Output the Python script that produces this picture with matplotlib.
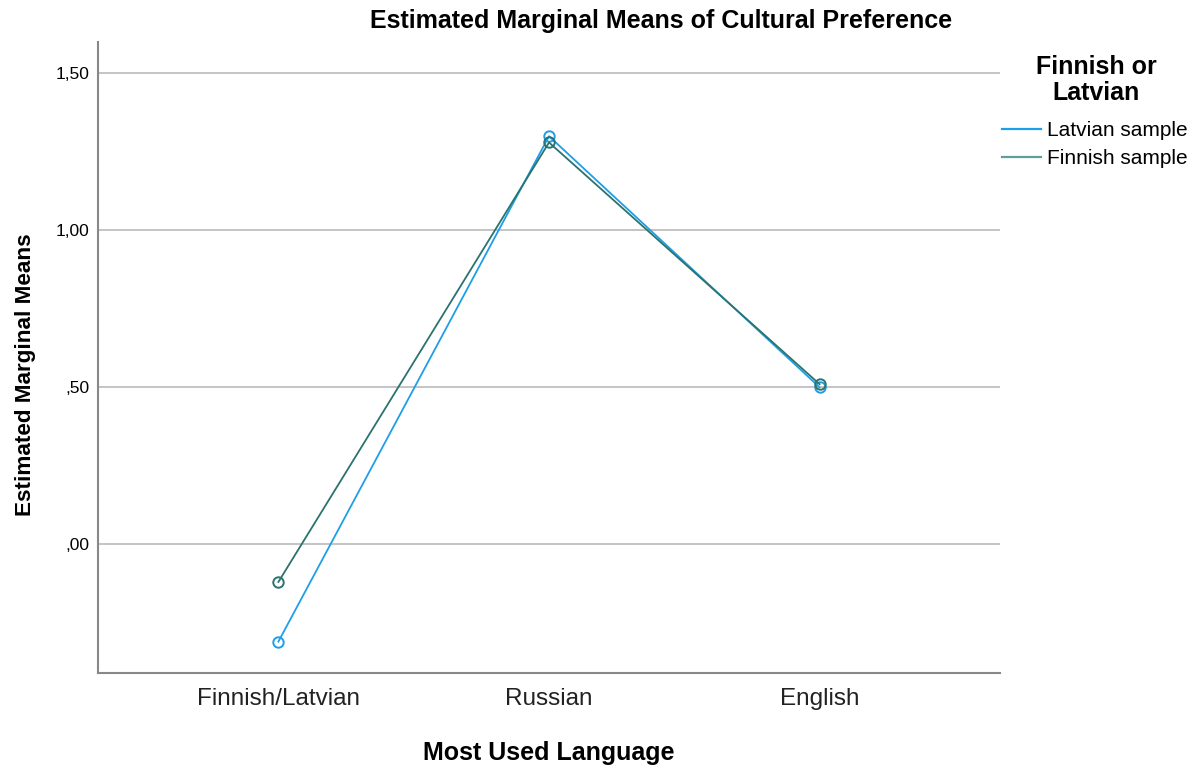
import matplotlib
matplotlib.use("Agg")
import matplotlib.pyplot as plt
from matplotlib.lines import Line2D
from matplotlib.ticker import FuncFormatter

plt.rcParams['font.family'] = ['Liberation Sans', 'DejaVu Sans']

# Datos
idiomas = ["Finnish/Latvian", "Russian", "English"]
latvian = [-0.31, 1.30, 0.50]
finnish = [-0.12, 1.28, 0.51]
series = ["Latvian sample", "Finnish sample"]
colores = ["#1f9ee8", "#2a736f"]
color_leyenda = ["#1f9ee8", "#5e9e9c"]
yticks = [0.0, 0.5, 1.0, 1.5]

fig = plt.figure(figsize=(12, 7.77), dpi=100)
ax = fig.add_axes([98/1200, 1-673/777, 902/1200, 631/777])

x = list(range(len(idiomas)))
for datos, c in zip([latvian, finnish], colores):
    ax.plot(x, datos, "-", color=c, linewidth=1.3, marker="o", markersize=7.5,
            markerfacecolor="none", markeredgecolor=c, markeredgewidth=1.4, zorder=3)

ax.set_xlim(-2/3, 2 + 2/3)
ax.set_ylim(-0.41, 1.6)
ax.set_xticks(x)
ax.set_xticklabels(idiomas, fontsize=17.5, color="#222222")
ax.set_yticks(yticks)
ax.yaxis.set_major_formatter(FuncFormatter(lambda v, p: ("%.2f" % v).replace("0.", ".").replace(".", ",")))
ax.tick_params(axis="y", labelsize=12.5, length=0, pad=6)
ax.tick_params(axis="x", length=0, pad=11)
ax.grid(axis="y", color="#bfbfbf", linewidth=1.3)
ax.set_axisbelow(True)
for s in ["top", "right"]:
    ax.spines[s].set_visible(False)
for s in ["left", "bottom"]:
    ax.spines[s].set_color("#888888")
    ax.spines[s].set_linewidth(1.5)

ax.set_xlabel("Most Used Language", fontsize=18, fontweight="bold", labelpad=22)
ax.set_ylabel("Estimated Marginal Means", fontsize=16.2, fontweight="bold")
ax.yaxis.set_label_coords(-0.069, 0.472)
fig.text(661/1200, 1-21/777, "Estimated Marginal Means of Cultural Preference",
         fontsize=18, fontweight="bold", ha="center", va="center")

fig.text(1096/1200, 1-80/777, "Finnish or\nLatvian", fontsize=18, fontweight="bold",
         ha="center", va="center", linespacing=1.12)
handles = [Line2D([0], [0], color=c, linewidth=1.6) for c in color_leyenda]
fig.legend(handles, series, loc="upper left", bbox_to_anchor=(1002/1200, 1-121/777),
           frameon=False, fontsize=15, handlelength=1.85, handletextpad=0.3,
           labelspacing=0.45, borderaxespad=0, borderpad=0)

fig.savefig("out.png", dpi=100)
